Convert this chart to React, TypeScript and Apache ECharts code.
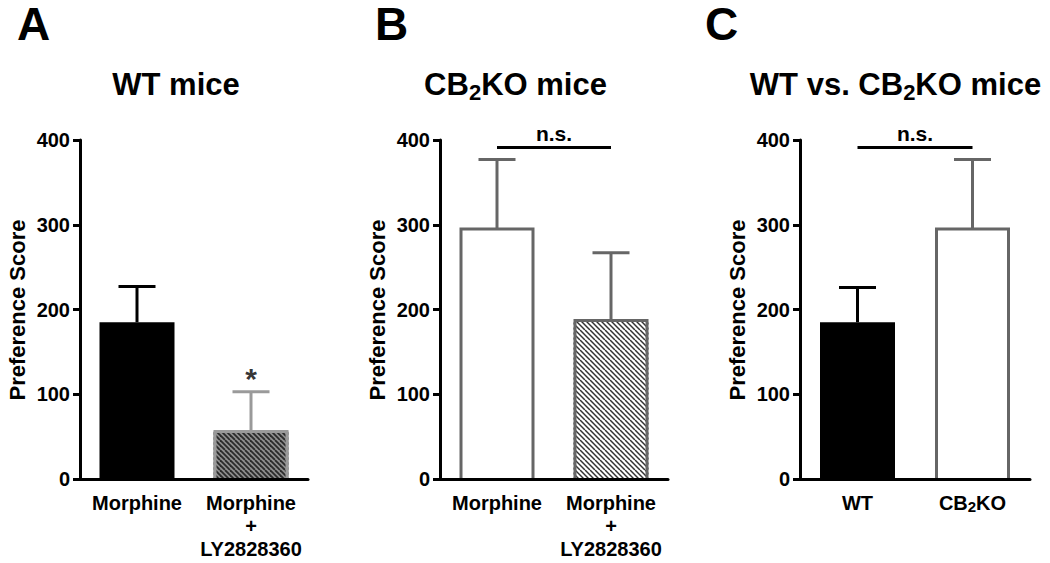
import React, { useEffect, useRef } from 'react';
import * as echarts from 'echarts';

// ---- data ----
const catsA = ['Morphine', 'Morphine\n+\nLY2828360'];
const meanA = [185, 56];
const errA = [42, 47];

const catsB = ['Morphine', 'Morphine\n+\nLY2828360'];
const meanB = [295, 187];
const errB = [82, 80];

const catsC = ['WT', 'CB2KO'];
const meanC = [185, 295];
const errC = [41, 82];

const yMin = 0;
const yMax = 400;
const yStep = 100;
const nsLevel = 392;
const starA = 1; // index of significant bar in panel A

const titles = ['WT mice', 'CB{sub|2}KO mice', 'WT vs. CB{sub|2}KO mice'];
const letters = ['A', 'B', 'C'];
const yName = 'Preference Score';

const FONT = '"Liberation Sans", Arial, Helvetica, sans-serif';

function hatch(bg: string, fg: string, lw: number) {
  const c = document.createElement('canvas');
  c.width = 10;
  c.height = 10;
  const ctx = c.getContext('2d')!;
  ctx.fillStyle = bg;
  ctx.fillRect(0, 0, 10, 10);
  ctx.strokeStyle = fg;
  ctx.lineWidth = lw;
  for (const k of [-15, -10, -5, 0, 5, 10, 15]) {
    ctx.beginPath();
    ctx.moveTo(k, 0);
    ctx.lineTo(k + 10, 10);
    ctx.stroke();
  }
  return c;
}

const BAR_W = 75;

function makeErr(colors: string[], outlines: (string | null)[]) {
  return (params: any, api: any) => {
    const x = api.value(0);
    const p0 = api.coord([x, api.value(1)]);
    const p1 = api.coord([x, api.value(2)]);
    const base = api.coord([x, 0]);
    const color = colors[params.dataIndex];
    const outline = outlines[params.dataIndex];
    const children: any[] = [];
    if (outline) {
      const h = BAR_W / 2 - 1.5;
      children.push({
        type: 'polyline',
        shape: {
          points: [
            [p0[0] - h, base[1]],
            [p0[0] - h, p0[1]],
            [p0[0] + h, p0[1]],
            [p0[0] + h, base[1]],
          ],
        },
        style: { stroke: outline, lineWidth: 3, fill: 'none', lineJoin: 'miter' },
      });
    }
    children.push(
      { type: 'line', shape: { x1: p0[0], y1: p0[1], x2: p1[0], y2: p1[1] }, style: { stroke: color, lineWidth: 3 } },
      { type: 'line', shape: { x1: p1[0] - 18.5, y1: p1[1], x2: p1[0] + 18.5, y2: p1[1] }, style: { stroke: color, lineWidth: 3 } }
    );
    return { type: 'group', children };
  };
}

export default function App() {
  const ref = useRef<HTMLDivElement>(null);
  useEffect(() => {
    document.body.style.margin = '0';
    const chart = echarts.init(ref.current!, null, { renderer: 'svg' });

    const grayA = '#9a9a9a';
    const grayB = '#666666';
    const hatchA = { image: hatch('#8e8e8e', '#2a2a2a', 1.8), repeat: 'repeat' };
    const hatchB = { image: hatch('#ffffff', '#333333', 1.5), repeat: 'repeat' };

    const gridLefts = [80, 440, 800];
    const gridWidths = [228, 228, 230];
    const cats = [catsA, catsB, catsC];

    const xLabel = {
      color: '#000',
      fontFamily: FONT,
      fontWeight: 'bold',
      fontSize: 20,
      lineHeight: 23,
      margin: 12,
      interval: 0,
      formatter: (v: string) => v.replace('CB2', 'CB{sub|2}'),
      rich: {
        sub: { fontSize: 15, fontWeight: 'bold', fontFamily: FONT, color: '#000', verticalAlign: 'bottom', lineHeight: 15 },
      },
    };

    const barFills = [
      ['#000', hatchA],
      ['#fff', hatchB],
      ['#000', '#fff'],
    ];
    const outlines = [
      [null, grayA],
      [grayB, grayB],
      [null, grayB],
    ];
    const errColors = [
      ['#000', grayA],
      [grayB, grayB],
      ['#000', grayB],
    ];
    const means = [meanA, meanB, meanC];
    const errs = [errA, errB, errC];

    const nsMark = {
      symbol: 'none',
      silent: true,
      lineStyle: { color: '#000', width: 3, type: 'solid' },
      label: {
        show: true,
        position: 'middle',
        formatter: 'n.s.',
        fontFamily: FONT,
        fontWeight: 'bold',
        fontSize: 21,
        color: '#000',
        distance: 3,
      },
      emphasis: { disabled: true },
      data: [[{ coord: [0, nsLevel] }, { coord: [1, nsLevel] }]],
    };

    const series: any[] = [];
    for (let i = 0; i < 3; i++) {
      series.push({
        type: 'bar',
        xAxisIndex: i,
        yAxisIndex: i,
        barWidth: BAR_W,
        data: means[i].map((v, j) => ({ value: v, itemStyle: { color: barFills[i][j], borderWidth: 0 } })),
        markLine: i > 0 ? nsMark : undefined,
        z: 2,
      });
      series.push({
        type: 'custom',
        xAxisIndex: i,
        yAxisIndex: i,
        renderItem: makeErr(errColors[i], outlines[i]),
        encode: { x: 0, y: [1, 2] },
        data: means[i].map((v, j) => [j, v, v + errs[i][j]]),
        z: 3,
      });
    }
    series.push({
      type: 'scatter',
      xAxisIndex: 0,
      yAxisIndex: 0,
      symbolSize: 0,
      data: [[starA, meanA[starA] + errA[starA]]],
      label: {
        show: true,
        position: 'top',
        distance: 0,
        formatter: '*',
        fontFamily: FONT,
        fontWeight: 'bold',
        fontSize: 30,
        lineHeight: 26,
        color: '#000',
      },
      z: 4,
    });

    const titleRich = {
      sub: { fontSize: 22, fontWeight: 'bold', fontFamily: FONT, fill: '#000', verticalAlign: 'bottom', lineHeight: 22 },
    };
    const titleX = [176, 515.5, 895.5];
    const letterX = [17, 375, 705];
    const yNameX = [17, 377, 737];

    const graphic: any[] = [];
    for (let i = 0; i < 3; i++) {
      graphic.push({
        type: 'text',
        x: letterX[i],
        y: 24,
        style: { text: letters[i], fontFamily: FONT, fontWeight: 'bold', fontSize: 46, lineHeight: 40, fill: '#000', align: 'left', verticalAlign: 'middle' },
      });
      graphic.push({
        type: 'text',
        x: titleX[i],
        y: 84,
        style: {
          text: titles[i],
          fontFamily: FONT,
          fontWeight: 'bold',
          fontSize: 31,
          lineHeight: 38,
          fill: '#000',
          align: 'center',
          verticalAlign: 'middle',
          rich: titleRich,
        },
      });
      graphic.push({
        type: 'text',
        x: yNameX[i],
        y: 310,
        rotation: Math.PI / 2,
        style: { text: yName, fontFamily: FONT, fontWeight: 'bold', fontSize: 22, fill: '#000', align: 'center', verticalAlign: 'middle' },
      });
    }

    chart.setOption({
      animation: false,
      grid: gridLefts.map((l, i) => ({ left: l, top: 140, width: gridWidths[i], height: 339 })),
      xAxis: cats.map((c, i) => ({
        type: 'category',
        gridIndex: i,
        data: c,
        z: 5,
        axisLine: { show: true, lineStyle: { color: '#000', width: 3 } },
        axisTick: { show: false },
        axisLabel: xLabel,
        splitLine: { show: false },
      })),
      yAxis: cats.map((_, i) => ({
        type: 'value',
        gridIndex: i,
        min: yMin,
        max: yMax,
        interval: yStep,
        z: 5,
        axisLine: { show: true, lineStyle: { color: '#000', width: 3 } },
        axisTick: { show: true, length: 7, lineStyle: { color: '#000', width: 3 } },
        axisLabel: { color: '#000', fontFamily: FONT, fontWeight: 'bold', fontSize: 20, margin: 10 },
        splitLine: { show: false },
      })),
      series,
      graphic,
    });
    return () => chart.dispose();
  }, []);
  return <div ref={ref} style={{ width: 1050, height: 563, background: '#fff' }} />;
}
